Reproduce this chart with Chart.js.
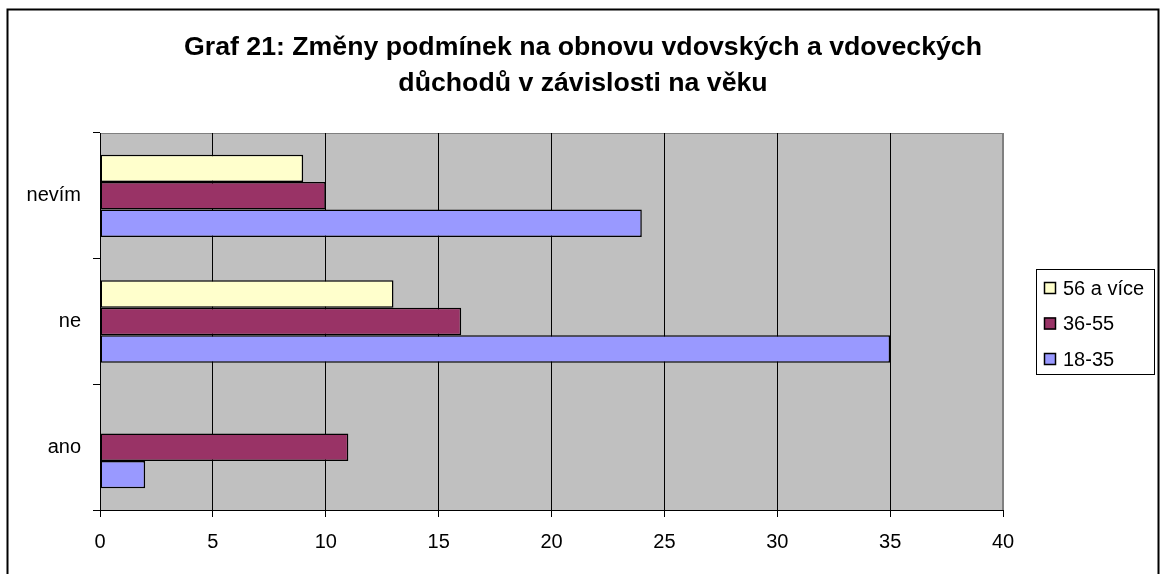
<!DOCTYPE html>
<html>
<head>
<meta charset="utf-8">
<script src="https://cdn.jsdelivr.net/npm/chart.js@4.4.0/dist/chart.umd.min.js"></script>
<style>
  body { margin: 0; background: #fff; }
  #wrap { width: 1160px; height: 574px; position: relative; }
</style>
</head>
<body>
<div id="wrap"><canvas id="graf21"></canvas></div>
<script>
const categories = ['nevím', 'ne', 'ano'];
const seriesNames = ['56 a více', '36-55', '18-35'];
const values56plus = [9, 13, 0];
const values36to55 = [10, 16, 11];
const values18to35 = [24, 35, 2];
const xTickLabels = ['0', '5', '10', '15', '20', '25', '30', '35', '40'];

const colors = ['#FFFFCC', '#993366', '#9999FF'];
const fontFamily = '"Liberation Sans", Arial, sans-serif';

// grey plot area with thin grey frame, outer chart border
const plotBackground = {
    id: 'plotBackground',
    beforeDraw(chart) {
        const { ctx, chartArea: a } = chart;
        ctx.save();
        ctx.fillStyle = '#C0C0C0';
        ctx.fillRect(a.left, a.top, a.right - a.left, a.bottom - a.top);
        ctx.strokeStyle = '#808080';
        ctx.lineWidth = 1;
        ctx.strokeRect(a.left + 0.5, a.top + 0.5, a.right - a.left - 1, a.bottom - a.top);
        ctx.restore();
    },
    afterDraw(chart) {
        const ctx = chart.ctx;
        ctx.save();
        ctx.strokeStyle = '#000';
        ctx.lineWidth = 2;
        ctx.strokeRect(7.5, 9.5, 1151, 700);
        ctx.restore();
    }
};

// legend in a framed box at the right, like the Excel original
const boxedLegend = {
    id: 'boxedLegend',
    afterDraw(chart) {
        const ctx = chart.ctx;
        const boxLeft = 1036, boxTop = 269, boxW = 118, boxH = 105;
        ctx.save();
        ctx.fillStyle = '#fff';
        ctx.fillRect(boxLeft, boxTop, boxW, boxH);
        ctx.strokeStyle = '#000';
        ctx.lineWidth = 1;
        ctx.strokeRect(boxLeft + 0.5, boxTop + 0.5, boxW, boxH);
        ctx.font = '20px ' + fontFamily;
        ctx.textBaseline = 'middle';
        ctx.textAlign = 'left';
        chart.data.datasets.forEach((ds, i) => {
            const cy = 288 + i * 35.5;
            ctx.fillStyle = ds.backgroundColor;
            ctx.fillRect(1044, cy - 6, 12, 12);
            ctx.strokeStyle = '#000';
            ctx.lineWidth = 1.5;
            ctx.strokeRect(1044.5, cy - 5.5, 11, 11);
            ctx.fillStyle = '#000';
            ctx.fillText(ds.label, 1063, cy + 1);
        });
        ctx.restore();
    }
};

const ctx = document.getElementById('graf21');
new Chart(ctx, {
    type: 'bar',
    data: {
        labels: categories,
        datasets: [
            { label: seriesNames[0], data: values56plus, backgroundColor: colors[0] },
            { label: seriesNames[1], data: values36to55, backgroundColor: colors[1] },
            { label: seriesNames[2], data: values18to35, backgroundColor: colors[2] }
        ]
    },
    options: {
        indexAxis: 'y',
        responsive: true,
        maintainAspectRatio: false,
        animation: false,
        layout: { padding: { top: 0, left: 6, right: 0, bottom: 0 } },
        datasets: {
            bar: {
                borderColor: '#000',
                borderWidth: 1.5,
                borderSkipped: false,
                categoryPercentage: 0.655,
                barPercentage: 1
            }
        },
        scales: {
            x: {
                min: 0,
                max: 40,
                afterFit(scale) { scale.height = 64; },
                ticks: {
                    stepSize: 5,
                    padding: 13,
                    color: '#000',
                    font: { family: fontFamily, size: 20 },
                    callback: (v, i) => xTickLabels[i]
                },
                grid: {
                    color: (c) => (c.tick && c.tick.value === 40) ? '#808080' : '#000',
                    tickColor: '#000',
                    tickLength: 7,
                    lineWidth: 1
                },
                border: { color: '#000', width: 1 }
            },
            y: {
                afterFit(scale) { scale.width = 94; },
                ticks: {
                    padding: 12,
                    color: '#000',
                    font: { family: fontFamily, size: 20 }
                },
                grid: {
                    drawOnChartArea: false,
                    color: '#000',
                    tickLength: 7,
                    offset: true
                },
                border: { color: '#000', width: 1 }
            },
            // empty right-hand axis that only keeps room for the legend box
            legendSpace: {
                axis: 'y',
                position: 'right',
                afterFit(scale) { scale.width = 157; },
                ticks: { display: false },
                grid: { display: false },
                border: { display: false }
            }
        },
        plugins: {
            legend: { display: false },
            tooltip: { enabled: false },
            title: {
                display: true,
                text: ['Graf 21: Změny podmínek na obnovu vdovských a vdoveckých', 'důchodů v závislosti na věku'],
                color: '#000',
                font: { family: fontFamily, size: 26.7, weight: 'bold', lineHeight: 36 / 26.7 },
                padding: { top: 30, bottom: 31 }
            }
        }
    },
    plugins: [plotBackground, boxedLegend]
});
</script>
</body>
</html>
